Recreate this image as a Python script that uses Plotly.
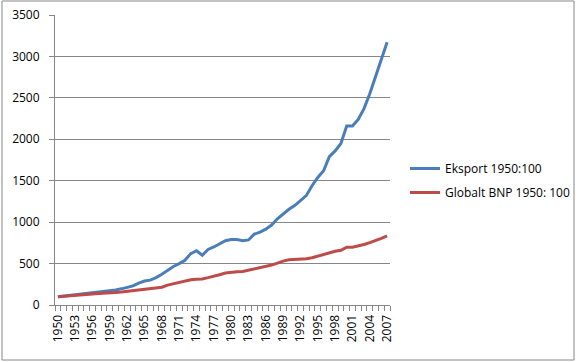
import plotly.graph_objects as go

years = list(range(1950, 2008))
eksport = [100, 108, 112, 122, 130, 140, 150, 160, 162, 170,
           180, 195, 210, 230, 265, 290, 300, 330, 370, 420,
           465, 500, 540, 620, 655, 600, 670, 700, 740, 775,
           790, 790, 775, 785, 855, 880, 915, 965, 1040, 1100,
           1155, 1200, 1260, 1320, 1440, 1540, 1620, 1790, 1860, 1950,
           2160, 2160, 2240, 2370, 2550, 2760, 2960, 3170]
bnp = [100, 107, 112, 118, 122, 127, 133, 138, 140, 145,
       152, 158, 165, 173, 182, 190, 200, 208, 215, 240,
       255, 270, 285, 305, 310, 315, 330, 345, 365, 385,
       395, 400, 405, 420, 435, 450, 468, 482, 505, 530,
       545, 548, 555, 558, 570, 590, 615, 635, 648, 660,
       698, 698, 710, 730, 752, 775, 805, 835]
label_years = list(range(1950, 2008, 3))
y_ticks = list(range(0, 3501, 500))

fig = go.Figure()
fig.add_trace(go.Scatter(x=years, y=eksport, mode="lines", name="Eksport 1950:100",
                         legendgroup="a",
                         line=dict(color="#4A7EBB", width=3)))
fig.add_trace(go.Scatter(x=years, y=bnp, mode="lines", name="Globalt BNP 1950: 100",
                         legendgroup="b",
                         line=dict(color="#BE4B48", width=3)))

font = dict(family="Open Sans", size=12, color="#000000")
fig.update_layout(
    width=577, height=362,
    margin=dict(l=55, r=187, t=15, b=57, autoexpand=False),
    paper_bgcolor="white", plot_bgcolor="white",
    font=font,
    showlegend=True,
    legend=dict(xref="container", yref="container",
                x=405 / 577, xanchor="left", y=1 - 180.5 / 362, yanchor="middle",
                font=font, tracegroupgap=5, itemwidth=30,
                bgcolor="rgba(0,0,0,0)"),
    xaxis=dict(range=[1949.5, 2007.5], tickmode="array", tickvals=label_years,
               ticktext=[str(y) for y in label_years], tickangle=-90,
               ticks="", showgrid=False, showline=True, linecolor="#868686",
               linewidth=1, zeroline=False, tickfont=font, automargin=False,
               ticklabelstandoff=4,
               minor=dict(ticks="outside", tick0=1949.5, dtick=1, ticklen=5,
                          tickcolor="#868686", showgrid=False)),
    yaxis=dict(range=[0, 3500], tickmode="array", tickvals=y_ticks,
               ticks="outside", ticklen=5, tickcolor="#868686",
               showgrid=True, gridcolor="#868686", gridwidth=1,
               showline=True, linecolor="#868686", linewidth=1,
               zeroline=False, tickfont=font, ticklabelstandoff=7,
               automargin=False),
    shapes=[dict(type="rect", xref="paper", yref="paper",
                 x0=(2 - 55) / 335, x1=(574 - 55) / 335,
                 y0=(305 - 360) / 290, y1=(305 - 1) / 290,
                 line=dict(color="#868686", width=1), fillcolor="rgba(0,0,0,0)",
                 layer="below")],
)
fig.write_html("out.html", config={"displayModeBar": False},
               post_script="document.body.style.margin='0';document.body.style.overflow='hidden';")
